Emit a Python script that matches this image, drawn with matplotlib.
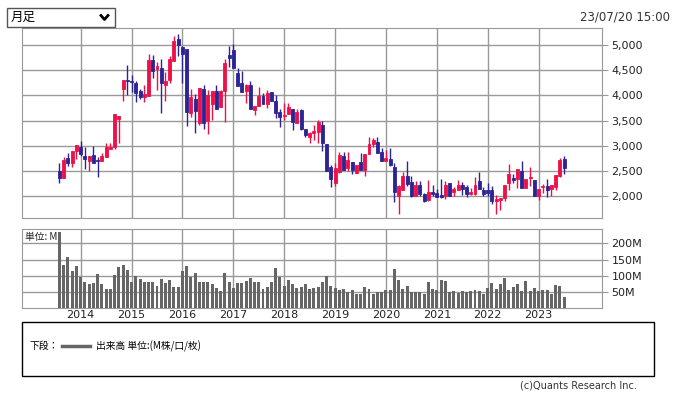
import matplotlib.pyplot as plt
from matplotlib.lines import Line2D
from matplotlib.patches import Rectangle

plt.rcParams['font.family'] = ['DejaVu Sans', 'Noto Sans CJK JP']

# monthly candles, Aug 2013 .. Jul 2023
opens = [2504, 2365, 2756, 2663, 2901,
         2981, 2796, 2703, 2809, 2716, 2703, 2782, 2941, 2968, 3537, 4133, 4305,
         4285, 4252, 4086, 3974, 3987, 4702, 4530, 4537, 4206, 4305, 4682, 5113,
         4954, 4914, 3656, 3921, 3458, 4120, 3497, 3828, 4086, 3762, 4086, 4801,
         4901, 4451, 4252, 4093, 4206, 3709, 3789, 3987, 3828, 4073, 3888, 3663,
         3590, 3630, 3729, 3458, 3709, 3332, 3180, 3259, 3279, 3411, 3027, 2570,
         2266, 2484, 2796, 2564, 2670, 2465, 2670, 2518, 2829, 3034, 3067, 2882,
         2697, 2731, 2570, 2008, 2115, 2389, 2276, 2008, 2209, 2048, 1914, 2088,
         2055, 2021, 1995, 2249, 2075, 2128, 2209, 2169, 2048, 2048, 2289, 2128,
         2115, 2115, 1894, 1914, 1968, 2262, 2363, 2329, 2490, 2155, 2356, 2322,
         1995, 2175, 2189, 2142, 2182, 2389, 2744]
highs = [2663, 2769, 2855, 2900, 3010,
         3093, 2968, 2800, 2994, 2782, 2849, 3047, 3047, 3630, 3595, 4305, 4603,
         4404, 4285, 4120, 4206, 4821, 4801, 4656, 4715, 4470, 4782, 5179, 5218,
         4980, 4920, 4120, 4027, 4140, 4206, 4106, 4090, 4206, 4106, 4715, 4980,
         5020, 4550, 4490, 4230, 4292, 3790, 4159, 4040, 4106, 4075, 4007, 3729,
         3841, 3855, 3735, 3722, 3722, 3335, 3266, 3411, 3510, 3490, 3030, 2617,
         2650, 2882, 2868, 2868, 2675, 2620, 2862, 2840, 3166, 3146, 3166, 2948,
         2918, 2951, 2664, 2209, 2470, 2690, 2389, 2296, 2289, 2050, 2316, 2209,
         2142, 2329, 2289, 2255, 2182, 2309, 2276, 2209, 2155, 2369, 2470, 2182,
         2249, 2195, 2015, 1970, 2225, 2630, 2430, 2545, 2690, 2330, 2583, 2325,
         2145, 2242, 2329, 2210, 2410, 2764, 2791]
lows = [2266, 2360, 2597, 2584, 2729,
        2796, 2537, 2504, 2660, 2372, 2700, 2780, 2928, 2928, 3047, 3894, 4007,
        4060, 3875, 3928, 3875, 3980, 4351, 4106, 3656, 3888, 4239, 4680, 4782,
        4239, 3391, 3577, 3259, 3411, 3325, 3232, 3510, 3720, 3760, 3477, 4570,
        4535, 4185, 4070, 3841, 3725, 3610, 3785, 3825, 3742, 3885, 3544, 3378,
        3510, 3625, 3312, 3455, 3320, 3166, 3047, 3113, 3047, 2901, 2495, 2186,
        2200, 2465, 2515, 2498, 2431, 2451, 2515, 2405, 2825, 2981, 2845, 2700,
        2695, 2597, 1874, 1647, 2110, 2195, 1990, 2005, 1995, 1890, 1910, 1995,
        1978, 1970, 1941, 2005, 1995, 2115, 2028, 1981, 2028, 2028, 2140, 1995,
        1995, 1834, 1647, 1727, 1894, 2128, 2262, 2155, 2152, 2152, 2195, 1995,
        1928, 2061, 1981, 2008, 2128, 2369, 2436]
closes = [2365, 2716, 2663, 2895, 3007,
          2835, 2743, 2796, 2663, 2690, 2796, 2968, 2968, 3630, 3590, 4305, 4285,
          4265, 4053, 3974, 4027, 4702, 4490, 4583, 4252, 4285, 4715, 5079, 5000,
          4821, 3676, 3974, 3696, 4139, 3458, 4007, 4086, 3722, 4086, 4649, 4748,
          4537, 4186, 4073, 4206, 3729, 3789, 3987, 3828, 4040, 3888, 3656, 3577,
          3610, 3762, 3477, 3669, 3325, 3213, 3246, 3292, 3477, 3047, 2498, 2339,
          2564, 2815, 2518, 2716, 2518, 2617, 2518, 2835, 3034, 3113, 2849, 2703,
          2764, 2610, 2075, 2195, 2389, 2229, 1995, 2209, 2035, 1894, 2088, 2048,
          1981, 1974, 2209, 2008, 2142, 2209, 2142, 2035, 2088, 2222, 2142, 2048,
          2061, 1894, 1948, 1968, 2222, 2430, 2309, 2543, 2155, 2329, 2369, 2008,
          2142, 2189, 2115, 2209, 2409, 2711, 2557]
# volume in millions
volume = [235, 132, 157, 114, 129,
          96, 83, 76, 79, 107, 74, 61, 61, 104, 126, 135, 118,
          83, 101, 92, 83, 83, 80, 70, 92, 77, 89, 67, 67,
          114, 129, 96, 110, 83, 83, 80, 74, 64, 55, 110, 83,
          64, 77, 77, 86, 95, 83, 83, 61, 67, 83, 123, 98,
          70, 89, 74, 64, 67, 74, 61, 64, 67, 80, 101, 70,
          64, 58, 61, 52, 58, 46, 46, 67, 61, 46, 51, 52,
          58, 58, 120, 89, 61, 70, 50, 50, 50, 46, 80, 61,
          58, 89, 86, 52, 54, 47, 55, 52, 55, 58, 55, 46,
          64, 77, 61, 74, 95, 58, 67, 74, 55, 86, 55, 62,
          54, 58, 56, 45, 72, 70, 36]
years = ['2014', '2015', '2016', '2017', '2018', '2019', '2020', '2021', '2022', '2023']

UP = '#EE1148'
DOWN = '#2C2496'
GRID = '#999999'

W, H = 675, 396
fig = plt.figure(figsize=(W / 100, H / 100), dpi=100)


def box(l, t, r, b):
    return [l / W, 1 - b / H, (r - l) / W, (b - t) / H]


ax = fig.add_axes(box(22.3, 28.3, 601.7, 218.3))
axv = fig.add_axes(box(22.3, 229.3, 601.7, 307.7))

x = list(range(len(opens)))
year_pos = [5 + 12 * i for i in range(len(years))]

for i in x:
    o, c = opens[i], closes[i]
    col = UP if c >= o else DOWN
    ax.vlines(i, lows[i], highs[i], color=col, lw=1, zorder=3)
    ax.bar(i, abs(c - o), bottom=min(o, c), width=0.7, color=col,
           edgecolor=col, lw=0.6, zorder=4)

axv.bar(x, volume, width=0.7, color='#666666', zorder=3)

for a in (ax, axv):
    a.set_xlim(-8.77, 127.88)
    a.set_xticks(year_pos)
    a.grid(True, color=GRID, lw=1, zorder=0)
    a.yaxis.tick_right()
    a.tick_params(axis='y', length=4, color=GRID, labelsize=8, pad=3,
                  labelcolor='#222222')
    a.tick_params(axis='x', length=0)
    for s in a.spines.values():
        s.set_color(GRID)

ax.set_ylim(1557, 5332)
ax.set_yticks([2000, 2500, 3000, 3500, 4000, 4500, 5000])
ax.set_yticklabels(['2,000', '2,500', '3,000', '3,500', '4,000', '4,500', '5,000'])
ax.set_xticklabels([])

axv.set_ylim(2.8, 242.8)
axv.set_yticks([50, 100, 150, 200])
axv.set_yticklabels(['50M', '100M', '150M', '200M'])
axv.set_xticklabels(years, fontsize=8, color='#222222')
axv.tick_params(axis='x', pad=2)
axv.text(0.004, 0.97, '単位: M', transform=axv.transAxes, fontsize=7,
         va='top', ha='left', color='#222222', zorder=5,
         family=['Noto Sans CJK JP', 'DejaVu Sans'])


def px(xp, yp):
    return xp / W, 1 - yp / H


# selector box
fig.add_artist(Rectangle(px(7, 27), 108 / W, 19 / H, transform=fig.transFigure,
                         fill=False, edgecolor='#555555', lw=1))
fig.text(*px(11, 17.5), '月足', fontsize=9, va='center', ha='left',
         family=['Noto Sans CJK JP', 'DejaVu Sans'])
fig.add_artist(Line2D([101 / W, 104.5 / W, 108 / W],
                      [1 - 15.5 / H, 1 - 19.5 / H, 1 - 15.5 / H],
                      transform=fig.transFigure, color='black', lw=2))
fig.text(*px(670, 17), '23/07/20 15:00', fontsize=8.5, va='center', ha='right',
         color='#333333')

# legend box
fig.add_artist(Rectangle(px(22, 376), 632 / W, 54 / H, transform=fig.transFigure,
                         fill=False, edgecolor='black', lw=1))
fig.text(*px(30, 346), '下段：', fontsize=7, va='center', ha='left',
         family=['Noto Sans CJK JP', 'DejaVu Sans'])
fig.add_artist(Line2D([62 / W, 90 / W], [1 - 346 / H, 1 - 346 / H],
                      transform=fig.transFigure, color='#666666', lw=2.5))
fig.text(*px(96, 346), '出来高 単位:(M株/口/枚)', fontsize=7, va='center', ha='left',
         family=['Noto Sans CJK JP', 'DejaVu Sans'])
fig.text(*px(637, 385), '(c)Quants Research Inc.', fontsize=7, va='center',
         ha='right', color='#333333')

fig.savefig('out.png', dpi=100)
